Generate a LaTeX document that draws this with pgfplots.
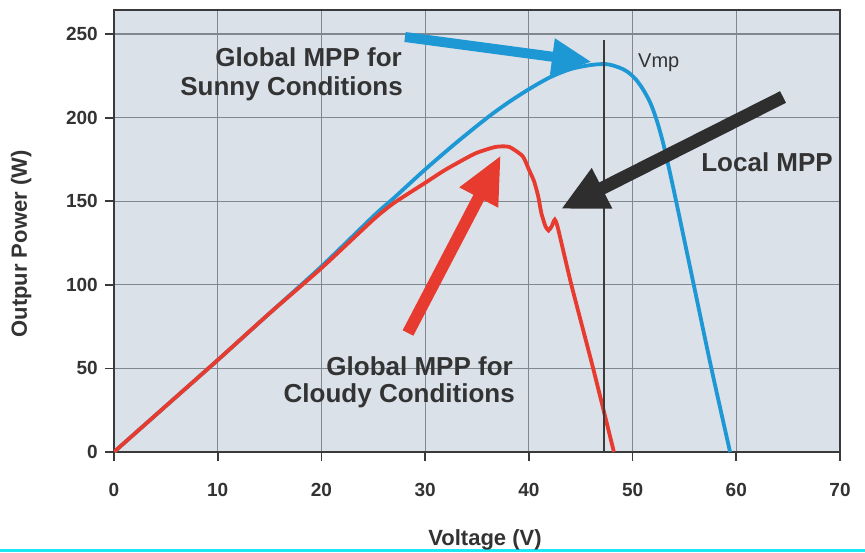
\documentclass[border=0pt]{standalone}
\usepackage{fontspec}
\setmainfont{Liberation Sans}
\usepackage{pgfplots}
\pgfplotsset{compat=1.18}
\usetikzlibrary{arrows.meta}
\definecolor{bgc}{HTML}{DAE1E9}
\definecolor{gridc}{HTML}{80878F}
\definecolor{framec}{HTML}{3A3A3A}
\definecolor{textc}{HTML}{333333}
\definecolor{bluec}{HTML}{1E98D5}
\definecolor{redc}{HTML}{E63B2E}
\definecolor{blackc}{HTML}{2E2E2E}
\definecolor{cyanbar}{HTML}{1CE8F4}
\begin{document}
\begin{tikzpicture}
\fill[white] (-114pt,-100pt) rectangle (751pt,452pt);
\path[use as bounding box] (-114pt,-100pt) rectangle (751pt,452pt);
\fill[cyanbar] (-114pt,-100pt) rectangle (751pt,-96.5pt);
\begin{axis}[
  at={(0pt,0pt)}, anchor=south west,
  scale only axis, width=726pt, height=442pt,
  xmin=0, xmax=70, ymin=0, ymax=264.4,
  xtick={0,10,...,70}, ytick={0,50,...,250},
  grid=major, grid style={line width=1.2pt, color=gridc},
  axis line style={line width=2.4pt, color=framec},
  axis background/.style={fill=bgc},
  xtick align=outside, ytick align=outside, tick pos=left,
  major tick length=9pt,
  every tick/.style={line width=1.8pt, color=framec},
  /pgf/number format/assume math mode=true,
  ticklabel style={font=\fontsize{19}{22}\selectfont\bfseries, text=textc, inner sep=0pt},
  xticklabel style={anchor=north},
  xticklabel shift=22pt,
  yticklabel style={anchor=east},
  yticklabel shift=7pt,
  every axis x label/.style={at={(axis description cs:0.511,0)}, anchor=base, yshift=-93pt},
  every axis y label/.style={at={(axis description cs:-0.128,0.4706)}, rotate=90, anchor=center},
  label style={font=\fontsize{22}{26}\selectfont\bfseries, text=textc},
  xlabel={Voltage (V)},
  ylabel={Outpur Power (W)},
]
\addplot[bluec, line width=3.8pt, smooth, tension=0.5] coordinates {
 (0,0) (5,27.5) (10,55) (15,83) (20,111) (25,141) (27,152) (30,169) (33,185)
 (36,200) (38,209) (40,217) (42,224) (44,229) (46,231.5) (47.5,232) (48.7,230)
 (49.5,227.5) (50.3,223) (51,217) (51.7,209) (52.3,199) (52.9,186) (53.5,170)
 (54.2,150) (55.9,100) (57.6,50) (59.4,0)
};
\addplot[redc, line width=3.8pt, smooth, tension=0.35] coordinates {
 (0,0) (5,27.5) (10,55) (15,83) (20,110) (25,139) (27,149) (30,161) (32,169)
 (34.8,178.5) (36.8,182.5) (38.1,182.5) (39.4,177) (40,169) (40.5,162) (40.9,153)
 (41.2,143) (41.6,135) (41.9,132.5) (42.2,135) (42.5,139) (42.8,134) (44.1,100)
 (46.2,50) (48.2,0)
};
\addplot[framec, line width=2pt] coordinates {(47.2,0) (47.2,246.4)};
\end{axis}
\begin{scope}[x=1pt,y=1pt]
% outside tick marks
\foreach \i in {0,...,7} {\draw[framec, line width=1.8pt] (\i*103.714,0) -- (\i*103.714,-9);}
\foreach \j in {0,...,5} {\draw[framec, line width=1.8pt] (0,\j*83.585) -- (-8,\j*83.585);}
\draw[line width=10pt, bluec, -{Triangle[length=40pt,width=34pt]}] (291,415) -- (478,390);
\draw[line width=13pt, blackc, -{Triangle[length=46pt,width=42pt]}] (669,355) -- (447,243);
\draw[line width=12pt, redc, -{Triangle[length=48pt,width=40pt]}] (294,119) -- (387,297);
\begin{scope}[every node/.style={inner sep=0pt, text=textc, font=\fontsize{26}{30}\selectfont\bfseries}]
\node[anchor=base east] at (288,385) {Global MPP for};
\node[anchor=base east] at (289,356) {Sunny Conditions};
\node[anchor=base east] at (399,77) {Global MPP for};
\node[anchor=base east] at (401,49) {Cloudy Conditions};
\node[anchor=base east] at (719,280) {Local MPP};
\node[anchor=base west, font=\fontsize{20}{24}\selectfont] at (524,384) {Vmp};
\end{scope}
\end{scope}
\end{tikzpicture}
\end{document}
